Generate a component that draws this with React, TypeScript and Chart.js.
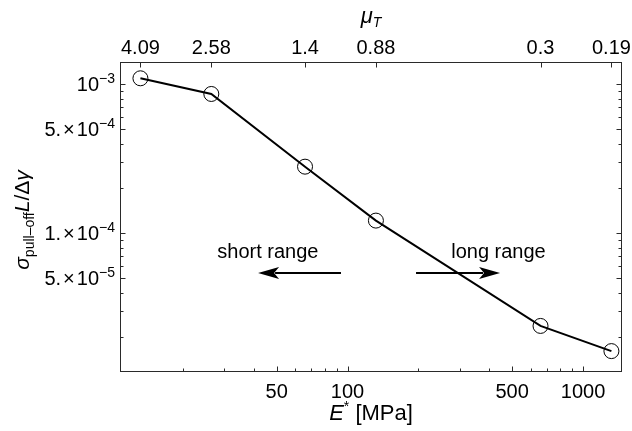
import React, { useEffect, useRef } from 'react';
import { Chart, registerables } from 'chart.js';

Chart.register(...registerables);

// ---- data ----
const E_STAR = [13.2, 26.4, 66, 132, 660, 1320];
const SIGMA = [1.097e-3, 8.61e-4, 2.8e-4, 1.217e-4, 2.39e-5, 1.62e-5];
const MU_T = ['4.09', '2.58', '1.4', '0.88', '0.3', '0.19'];

const X_TICKS = [50, 100, 500, 1000];
const Y_TICKS = [1e-3, 5e-4, 1e-4, 5e-5];
const Y_TICK_MANTISSA = ['', '5.', '1.', '5.'];
const Y_TICK_EXP = ['\u22123', '\u22124', '\u22124', '\u22125'];

const X_MIN = 10.81;
const X_MAX = 1464;
const Y_MIN = 1.173e-5;
const Y_MAX = 1.411e-3;

const ANNOT_TEXT = ['short range', 'long range'];
const ANNOT_TEXT_X = [45.9, 437.5];
const ANNOT_TEXT_Y = 6.82e-5;
const ARROW_FROM = [93.8, 195.4];
const ARROW_TO = [41.7, 444.4];
const ARROW_Y = 5.42e-5;

const FONT = "'Liberation Sans', Arial, Helvetica, sans-serif";

function minorValues(min: number, max: number) {
  const out: number[] = [];
  for (let e = Math.floor(Math.log10(min)); e <= Math.ceil(Math.log10(max)); e++) {
    for (let m = 1; m <= 9; m++) {
      const v = m * Math.pow(10, e);
      if (v >= min && v <= max) out.push(v);
    }
  }
  return out;
}

function isMajor(v: number, majors: number[]) {
  return majors.some((m) => Math.abs(m - v) / m < 1e-6);
}

export default function App() {
  const ref = useRef<HTMLCanvasElement>(null);

  useEffect(() => {
    if (!ref.current) return;

    const decor = {
      id: 'decor',
      afterDraw(chart: any) {
        const { ctx, chartArea: a, scales } = chart;
        const xs = scales.x;
        const ys = scales.y;
        const L = a.left + 0.5;
        const R = a.right - 0.5;
        const T = a.top + 0.5;
        const B = a.bottom - 0.5;
        ctx.save();
        // frame
        ctx.strokeStyle = '#2a2a2a';
        ctx.lineWidth = 1;
        ctx.strokeRect(L, T, R - L, B - T);

        // bottom ticks (inward)
        ctx.beginPath();
        for (const v of minorValues(X_MIN, X_MAX)) {
          const px = Math.round(xs.getPixelForValue(v)) + 0.5;
          const len = isMajor(v, X_TICKS) ? 5 : 3;
          ctx.moveTo(px, B);
          ctx.lineTo(px, B - len);
        }
        // top ticks at data positions
        for (const v of E_STAR) {
          const px = Math.round(xs.getPixelForValue(v)) + 0.5;
          ctx.moveTo(px, T);
          ctx.lineTo(px, T + 5);
        }
        // left / right ticks
        for (const v of minorValues(Y_MIN, Y_MAX)) {
          const py = Math.round(ys.getPixelForValue(v)) + 0.5;
          const len = isMajor(v, Y_TICKS) ? 5 : 3;
          ctx.moveTo(L, py);
          ctx.lineTo(L + len, py);
          ctx.moveTo(R, py);
          ctx.lineTo(R - len, py);
        }
        ctx.stroke();

        // y tick labels with superscripts
        ctx.fillStyle = '#000';
        ctx.textBaseline = 'alphabetic';
        ctx.textAlign = 'left';
        const mainF = `20px ${FONT}`;
        const supF = `14px ${FONT}`;
        Y_TICKS.forEach((v, i) => {
          const py = ys.getPixelForValue(v);
          const base = py + 7;
          ctx.font = supF;
          const wExp = ctx.measureText(Y_TICK_EXP[i]).width;
          ctx.font = mainF;
          const w10 = ctx.measureText('10').width;
          const wM = Y_TICK_MANTISSA[i] ? ctx.measureText(Y_TICK_MANTISSA[i]).width : 0;
          const wX = Y_TICK_MANTISSA[i] ? ctx.measureText('\u00d7').width : 0;
          const gap = Y_TICK_MANTISSA[i] ? 2 : 0;
          const total = wM + gap + wX + gap + w10 + wExp;
          let x = a.left - 5 - total;
          if (Y_TICK_MANTISSA[i]) {
            ctx.fillText(Y_TICK_MANTISSA[i], x, base);
            x += wM + gap;
            ctx.fillText('\u00d7', x, base);
            x += wX + gap;
          }
          ctx.fillText('10', x, base);
          x += w10;
          ctx.font = supF;
          ctx.fillText(Y_TICK_EXP[i], x, base - 8);
        });

        // x title: E* [MPa]
        {
          const base = 420;
          ctx.font = `italic 22px ${FONT}`;
          const wE = ctx.measureText('E').width;
          ctx.font = `14px ${FONT}`;
          const wS = ctx.measureText('*').width;
          ctx.font = `22px ${FONT}`;
          const wR = ctx.measureText(' [MPa]').width;
          const total = wE + wS + wR;
          let x = (a.left + a.right) / 2 - total / 2;
          ctx.font = `italic 22px ${FONT}`;
          ctx.fillText('E', x, base);
          x += wE;
          ctx.font = `14px ${FONT}`;
          ctx.fillText('*', x, base - 9);
          x += wS;
          ctx.font = `22px ${FONT}`;
          ctx.fillText(' [MPa]', x, base);
        }

        // top title: mu_T
        {
          const base = 23;
          ctx.font = `italic 22px ${FONT}`;
          const wm = ctx.measureText('\u03bc').width;
          ctx.font = `italic 14px ${FONT}`;
          const wt = ctx.measureText('T').width;
          let x = (a.left + a.right) / 2 - (wm + wt) / 2;
          ctx.font = `italic 22px ${FONT}`;
          ctx.fillText('\u03bc', x, base);
          x += wm;
          ctx.font = `italic 14px ${FONT}`;
          ctx.fillText('T', x, base + 4);
        }

        // y title: sigma_{pull-off} L / Delta gamma
        {
          const parts: [string, string, number][] = [
            ['\u03c3', `italic 21px ${FONT}`, 0],
            ['pull\u2013off', `14px ${FONT}`, 5],
            ['L', `italic 21px ${FONT}`, 0],
            ['/', `21px ${FONT}`, 0],
            ['\u0394', `21px ${FONT}`, 0],
            ['\u03b3', `italic 21px ${FONT}`, 0],
          ];
          let total = 0;
          const widths = parts.map(([t, f]) => {
            ctx.font = f;
            const w = ctx.measureText(t).width;
            total += w;
            return w;
          });
          ctx.save();
          ctx.translate(29, (a.top + a.bottom) / 2 + 3);
          ctx.rotate(-Math.PI / 2);
          let x = -total / 2;
          parts.forEach(([t, f, dy], i) => {
            ctx.font = f;
            ctx.fillText(t, x, dy);
            x += widths[i];
          });
          ctx.restore();
        }

        // annotations
        ctx.font = `20px ${FONT}`;
        ctx.textAlign = 'center';
        ANNOT_TEXT.forEach((t, i) => {
          ctx.fillText(t, xs.getPixelForValue(ANNOT_TEXT_X[i]), ys.getPixelForValue(ANNOT_TEXT_Y));
        });
        const ay = Math.round(ys.getPixelForValue(ARROW_Y));
        ARROW_FROM.forEach((from, i) => {
          const x1 = xs.getPixelForValue(from);
          const x2 = xs.getPixelForValue(ARROW_TO[i]);
          const dir = x2 > x1 ? 1 : -1;
          const headLen = 21;
          const half = 6;
          ctx.strokeStyle = '#000';
          ctx.lineWidth = 2;
          ctx.beginPath();
          ctx.moveTo(x1, ay);
          ctx.lineTo(x2 - dir * (headLen - 4), ay);
          ctx.stroke();
          ctx.fillStyle = '#000';
          ctx.beginPath();
          ctx.moveTo(x2, ay);
          ctx.lineTo(x2 - dir * headLen, ay - half);
          ctx.lineTo(x2 - dir * (headLen - 5), ay);
          ctx.lineTo(x2 - dir * headLen, ay + half);
          ctx.closePath();
          ctx.fill();
        });
        ctx.restore();
      },
    };

    const tickFont = { family: FONT, size: 20 };

    const chart = new Chart(ref.current, {
      type: 'line',
      data: {
        datasets: [
          {
            data: E_STAR.map((x, i) => ({ x, y: SIGMA[i] })),
            borderColor: '#000',
            borderWidth: 2,
            pointRadius: 7.5,
            pointBorderWidth: 1,
            pointBorderColor: '#000',
            pointBackgroundColor: 'rgba(0,0,0,0)',
            fill: false,
            tension: 0,
          },
        ],
      },
      options: {
        animation: false,
        responsive: true,
        maintainAspectRatio: false,
        layout: { padding: { left: 0, right: 10, top: 0, bottom: 0 } },
        plugins: { legend: { display: false }, tooltip: { enabled: false } },
        scales: {
          x: {
            type: 'logarithmic',
            position: 'bottom',
            min: X_MIN,
            max: X_MAX,
            grid: { display: false, drawTicks: false },
            border: { display: false },
            afterBuildTicks: (s: any) => {
              s.ticks = X_TICKS.map((v) => ({ value: v }));
            },
            afterFit: (s: any) => {
              s.height = 59;
              s.paddingLeft = 0;
              s.paddingRight = 0;
            },
            ticks: {
              autoSkip: false,
              maxRotation: 0,
              padding: 8,
              color: '#000',
              font: tickFont,
              callback: (v: any) => String(v),
            },
          },
          x2: {
            type: 'logarithmic',
            position: 'top',
            min: X_MIN,
            max: X_MAX,
            grid: { display: false, drawTicks: false },
            border: { display: false },
            afterBuildTicks: (s: any) => {
              s.ticks = E_STAR.map((v) => ({ value: v }));
            },
            afterFit: (s: any) => {
              s.height = 62;
              s.paddingLeft = 0;
              s.paddingRight = 0;
            },
            ticks: {
              autoSkip: false,
              maxRotation: 0,
              padding: 2,
              color: '#000',
              font: tickFont,
              callback: (_v: any, i: number) => MU_T[i],
            },
          },
          y: {
            type: 'logarithmic',
            position: 'left',
            min: Y_MIN,
            max: Y_MAX,
            grid: { display: false, drawTicks: false },
            border: { display: false },
            afterBuildTicks: (s: any) => {
              s.ticks = Y_TICKS.map((v) => ({ value: v }));
            },
            afterFit: (s: any) => {
              s.width = 120;
              s.paddingTop = 0;
              s.paddingBottom = 0;
            },
            ticks: { display: false },
          },
        },
      },
      plugins: [decor],
    });

    return () => chart.destroy();
  }, []);

  return (
    <div style={{ position: 'fixed', left: 0, top: 0, width: 632, height: 431, background: '#fff' }}>
      <canvas ref={ref} />
    </div>
  );
}
